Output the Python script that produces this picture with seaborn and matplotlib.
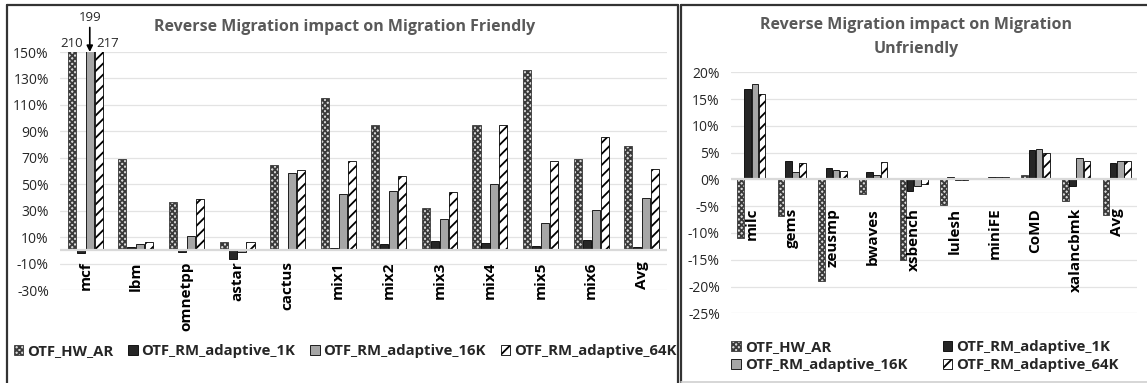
import numpy as np
import pandas as pd
import seaborn as sns
import matplotlib.pyplot as plt
from matplotlib.patches import Patch
from matplotlib.lines import Line2D

# values (percent)
series = ['OTF_HW_AR', 'OTF_RM_adaptive_1K', 'OTF_RM_adaptive_16K', 'OTF_RM_adaptive_64K']

friendly = ['mcf', 'lbm', 'omnetpp', 'astar', 'cactus', 'mix1', 'mix2', 'mix3', 'mix4', 'mix5', 'mix6', 'Avg']
friendly_hw_ar = [210, 69, 36.5, 6.3, 64.7, 115, 94.6, 32, 95, 136.6, 69.2, 79]
friendly_1k = [-2, 2.3, -1, -6.5, 1, 2, 5, 7.1, 5.6, 3, 7.5, 2.5]
friendly_16k = [199, 4.8, 10.6, -1.5, 58.6, 42.8, 44.5, 23.4, 50.2, 20.9, 30.7, 39.5]
friendly_64k = [217, 6.3, 38.8, 6.6, 60.7, 67.5, 56.4, 44.4, 95, 67.5, 85.8, 61.7]

unfriendly = ['milc', 'gems', 'zeusmp', 'bwaves', 'xsbench', 'lulesh', 'miniFE', 'CoMD', 'xalancbmk', 'Avg']
unfriendly_hw_ar = [-10.9, -6.9, -19, -2.7, -15, -4.7, 0.35, 0.9, -4.0, -6.6]
unfriendly_1k = [16.9, 3.5, 2.05, 1.3, -2.2, 0.4, 0.4, 5.4, -1.3, 3.0]
unfriendly_16k = [17.8, 1.3, 1.7, 0.8, -1.3, -0.2, 0.4, 5.6, 4.0, 3.4]
unfriendly_64k = [16.0, 3.0, 1.5, 3.2, -0.9, -0.2, 0.4, 4.9, 3.5, 3.5]

friendly_ticks = list(range(-30, 151, 20))
unfriendly_ticks = list(range(-25, 21, 5))

# bar look per series: (face, hatch)
styles = {
    'OTF_HW_AR': ('#d9d9d9', 'xxxxxx'),
    'OTF_RM_adaptive_1K': ('#262626', ''),
    'OTF_RM_adaptive_16K': ('#a6a6a6', ''),
    'OTF_RM_adaptive_64K': ('white', '///'),
}


def long_frame(cats, *cols):
    df = pd.DataFrame({'bench': cats})
    for name, vals in zip(series, cols):
        df[name] = vals
    return df.melt(id_vars='bench', var_name='config', value_name='value')


def draw_panel(ax, df, cats, ticks, label_y):
    sns.barplot(data=df, x='bench', y='value', hue='config', hue_order=series,
                order=cats, width=0.71, gap=0.1, errorbar=None, legend=False,
                ax=ax, edgecolor='black', linewidth=0.6)
    for cont, name in zip(ax.containers, series):
        face, hatch = styles[name]
        for bar in cont:
            bar.set_facecolor(face)
            bar.set_hatch(hatch)
            if name == 'OTF_HW_AR':
                bar.set_edgecolor('#3a3a3a')
    ax.set_ylim(ticks[0], ticks[-1])
    ax.set_yticks(ticks)
    ax.set_yticklabels([f'{t}%' for t in ticks], fontsize=10, color='#262626')
    ax.tick_params(axis='y', length=0, pad=8)
    ax.set_xticks([])
    ax.set_xlim(-0.5, len(cats) - 0.5)
    ax.set_xlabel('')
    ax.set_ylabel('')
    ax.grid(axis='y', color='#e3e3e3', lw=0.9)
    ax.set_axisbelow(True)
    ax.axhline(0, color='#d9d9d9', lw=1.6, zorder=1.5)
    for s in ax.spines.values():
        s.set_visible(False)
    for i, c in enumerate(cats):
        ax.text(i, label_y, c, rotation=90, ha='center', va='top',
                fontsize=11, fontweight='bold', color='black')


plt.rcParams['hatch.linewidth'] = 1.3
sns.set_style('white')
plt.rcParams['font.family'] = ['Open Sans', 'DejaVu Sans']

W, H = 1147, 383
fig = plt.figure(figsize=(W / 100, H / 100), dpi=100)

ax1 = fig.add_axes([60 / W, 1 - 290 / H, 607 / W, 238 / H])
draw_panel(ax1, long_frame(friendly, friendly_hw_ar, friendly_1k, friendly_16k, friendly_64k),
           friendly, friendly_ticks, -8.3)

ax2 = fig.add_axes([731 / W, 1 - 313.3 / H, 406 / W, 241 / H])
draw_panel(ax2, long_frame(unfriendly, unfriendly_hw_ar, unfriendly_1k, unfriendly_16k, unfriendly_64k),
           unfriendly, unfriendly_ticks, -5.3)

# clipped mcf bars get their real values written on top
off = 0.71 / 4
ax1.text(-1.5 * off, 151.5, f'{friendly_hw_ar[0]:.0f}', ha='center', va='bottom', fontsize=9.5)
ax1.text(1.5 * off - 0.05, 151.5, f'{friendly_64k[0]:.0f}', ha='left', va='bottom', fontsize=9.5)
ax1.annotate(f'{friendly_16k[0]:.0f}', xy=(0.5 * off, 150), xytext=(0.5 * off, 171),
             ha='center', va='bottom', fontsize=9.5, annotation_clip=False,
             arrowprops=dict(arrowstyle='-|>', color='black', lw=1.2, mutation_scale=9,
                             shrinkA=0, shrinkB=0))

fig.text(345 / W, 1 - 27 / H, 'Reverse Migration impact on Migration Friendly',
         ha='center', va='center', fontsize=11.5, fontweight='bold', color='#595959')
fig.text(916 / W, 1 - 37 / H, 'Reverse Migration impact on Migration\nUnfriendly',
         ha='center', va='center', fontsize=11.5, fontweight='bold', color='#595959',
         linespacing=1.6)

handles = {}
for name in series:
    face, hatch = styles[name]
    handles[name] = Patch(facecolor=face, hatch=hatch, label=name,
                          edgecolor='#3a3a3a' if name == 'OTF_HW_AR' else 'black', lw=0.6)

leg_kw = dict(frameon=False, prop={'weight': 'bold', 'size': 10.7}, handlelength=0.65,
              handleheight=0.65, handletextpad=0.25)
fig.legend(handles=[handles[n] for n in series], ncol=4, loc='center',
           bbox_to_anchor=(345 / W, 1 - 351 / H), columnspacing=1.0, **leg_kw)
# two by two, filled row by row like the reference
fig.legend(handles=[handles[n] for n in (series[0], series[2], series[1], series[3])], ncol=2,
           loc='center', bbox_to_anchor=(925 / W, 1 - 356 / H), columnspacing=2.4,
           labelspacing=0.3, **leg_kw)

# chart frames
def fline(xs, ys, color, lw):
    fig.add_artist(Line2D([x / W for x in xs], [1 - y / H for y in ys], color=color, lw=lw))

fline([7, 7], [5, 390], '#333333', 1.6)
fline([7, 678], [5, 5], '#333333', 1.6)
fline([678, 678], [5, 390], '#333333', 1.6)
fline([681, 681], [5, 390], '#333333', 1.6)
fline([681, 1150], [5, 5], '#333333', 1.6)
fline([681, 1150], [382, 382], '#d0d0d0', 1.2)

fig.savefig('out.png', dpi=100)
